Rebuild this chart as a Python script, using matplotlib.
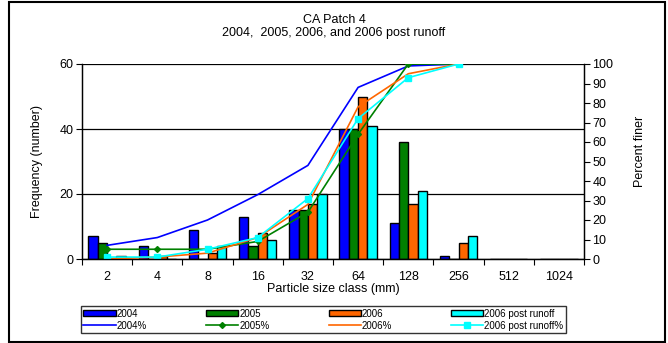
import numpy as np
import matplotlib
matplotlib.use("Agg")
import matplotlib.pyplot as plt
from matplotlib.patches import Rectangle, Patch
from matplotlib.lines import Line2D

plt.rcParams['font.family'] = ['Liberation Sans', 'DejaVu Sans']

# size classes (mm)
size_class = ["2", "4", "8", "16", "32", "64", "128", "256", "512", "1024"]

# frequency counts per class
freq_2004 = [7, 4, 9, 13, 15, 40, 11, 1, 0, 0]
freq_2005 = [5, 0, 0, 4, 15, 40, 36, 0, 0, 0]
freq_2006 = [0, 1, 2, 8, 17, 50, 17, 5, 0, 0]
freq_2006pr = [1, 0, 4, 6, 20, 41, 21, 7, 0, 0]

# percent finer (only drawn through 256 mm)
pct_2004 = [7, 11, 20, 33, 48, 88, 99, 100]
pct_2005 = [5, 5, 5, 9, 24, 64, 100, 100]
pct_2006 = [0, 1, 3, 11, 28, 78, 95, 100]
pct_2006pr = [1, 1, 5, 11, 31, 72, 93, 100]

c_blue = "#0000FF"
c_green = "#008000"
c_orange = "#FF6600"
c_cyan = "#00FFFF"

fig = plt.figure(figsize=(6.68, 3.43), dpi=100)
ax = fig.add_axes([82 / 668, 84 / 343, 502 / 668, 195 / 343])
ax2 = ax.twinx()

x = np.arange(len(size_class))
w = 0.187
bar_sets = [(freq_2004, c_blue), (freq_2005, c_green), (freq_2006, c_orange), (freq_2006pr, c_cyan)]
for i, (vals, col) in enumerate(bar_sets):
    ax.bar(x + (i - 1.5) * w, vals, width=w, color=col, edgecolor="black", linewidth=1.0, zorder=2)

ax.set_xlim(-0.5, 9.5)
ax.set_ylim(0, 60)
ax.set_yticks([0, 20, 40, 60])
ax.yaxis.grid(True, color="black", linewidth=0.9)
ax.set_axisbelow(True)
ax.set_xticks(x)
ax.set_xticklabels(size_class)
ax.set_xticks(np.arange(-0.5, 10, 1), minor=True)
ax.tick_params(axis="x", which="major", length=0, pad=8.5, labelsize=9)
ax.tick_params(axis="x", which="minor", length=4, direction="out", width=0.8)
ax.tick_params(axis="y", length=4, direction="out", labelsize=9, pad=2, width=0.8)
ax.set_xlabel("Particle size class (mm)", fontsize=9)
ax.xaxis.set_label_coords(0.5, -0.125)
ax.set_ylabel("Frequency (number)", fontsize=9)
ax.yaxis.set_label_coords(-0.077, 0.5)

xl = x[:len(pct_2004)]
ax2.plot(xl, pct_2004, color=c_blue, lw=1.2)
ax2.plot(xl, pct_2005, color=c_green, lw=1.2, marker="D", ms=3)
ax2.plot(xl, pct_2006, color=c_orange, lw=1.2)
ax2.plot(xl, pct_2006pr, color=c_cyan, lw=1.2, marker="s", ms=4)
ax2.set_ylim(0, 100)
ax2.set_yticks(np.arange(0, 101, 10))
ax2.tick_params(axis="y", length=4, direction="out", labelsize=9, pad=2, width=0.8)
ax2.set_ylabel("Percent finer", fontsize=9)
ax2.yaxis.set_label_coords(1.1, 0.55)

for a in (ax, ax2):
    a.spines["top"].set_visible(False)
    for s in ("left", "right", "bottom"):
        a.spines[s].set_linewidth(0.9)

fig.text(0.5, 1 - 20 / 343, "CA Patch 4", ha="center", va="center", fontsize=9)
fig.text(0.5, 1 - 33 / 343, "2004,  2005, 2006, and 2006 post runoff", ha="center", va="center", fontsize=9)

handles = []
labels = []
for (vals, col), pct, name, mk in zip(bar_sets, [pct_2004, pct_2005, pct_2006, pct_2006pr],
                                      ["2004", "2005", "2006", "2006 post runoff"], [None, "D", None, "s"]):
    handles.append(Patch(facecolor=col, edgecolor="black", linewidth=1.0))
    labels.append(name)
    handles.append(Line2D([], [], color=col, lw=1.2, marker=mk, ms=3 if mk == "D" else 4))
    labels.append(name + "%")

leg = fig.legend(handles, labels, ncol=4, loc="lower left", bbox_to_anchor=(81 / 668, 10 / 343),
                 bbox_transform=fig.transFigure, fontsize=7, frameon=True, fancybox=False,
                 handlelength=3.3, handleheight=0.6, handletextpad=0.1, columnspacing=6.1,
                 labelspacing=0.2, borderpad=0.25, borderaxespad=0)
leg.get_frame().set_edgecolor("black")
leg.get_frame().set_linewidth(1.0)

fig.patches.append(Rectangle((9 / 668, 1 / 343), 656 / 668, 340 / 343, transform=fig.transFigure,
                             fill=False, edgecolor="black", linewidth=1.5))

fig.savefig("out.png", dpi=100)
